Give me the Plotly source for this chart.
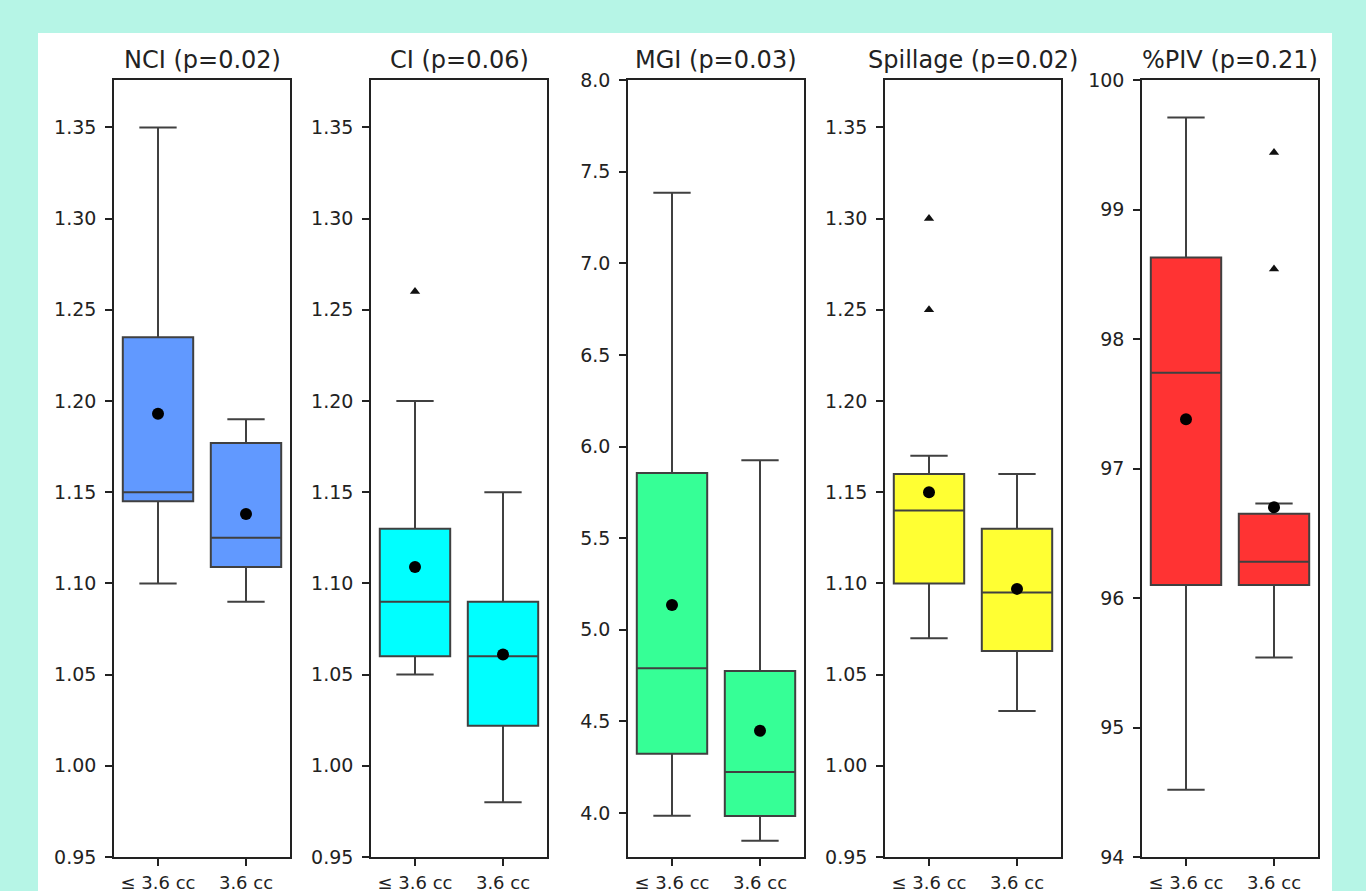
import plotly.graph_objects as go

W, H = 1366, 891

# ---- data ----
titles = ["NCI (p=0.02)", "CI (p=0.06)", "MGI (p=0.03)", "Spillage (p=0.02)", "%PIV (p=0.21)"]
categories = ["≤ 3.6 cc", "3.6 cc"]
colors = ["#6199FF", "#00FFFF", "#36FF96", "#FFFF33", "#FF3333"]

lowerfence = [[1.100, 1.090], [1.050, 0.980], [3.985, 3.849], [1.070, 1.030], [94.52, 95.54]]
q1 =         [[1.145, 1.109], [1.060, 1.022], [4.323, 3.984], [1.100, 1.063], [96.10, 96.10]]
median =     [[1.150, 1.125], [1.090, 1.060], [4.790, 4.224], [1.140, 1.095], [97.74, 96.28]]
q3 =         [[1.235, 1.177], [1.130, 1.090], [5.855, 4.775], [1.160, 1.130], [98.63, 96.65]]
upperfence = [[1.350, 1.190], [1.200, 1.150], [7.385, 5.925], [1.170, 1.160], [99.71, 96.73]]
means =      [[1.193, 1.138], [1.109, 1.061], [5.135, 4.449], [1.150, 1.097], [97.38, 96.70]]
outliers =   [[[], []], [[1.26], []], [[], []], [[1.30, 1.25], []], [[], [99.44, 98.54]]]

y_ranges = [[0.95, 1.376], [0.95, 1.376], [3.76, 8.0], [0.95, 1.376], [94, 100]]
y_ticks = [
    [0.95, 1.00, 1.05, 1.10, 1.15, 1.20, 1.25, 1.30, 1.35],
    [0.95, 1.00, 1.05, 1.10, 1.15, 1.20, 1.25, 1.30, 1.35],
    [4.0, 4.5, 5.0, 5.5, 6.0, 6.5, 7.0, 7.5, 8.0],
    [0.95, 1.00, 1.05, 1.10, 1.15, 1.20, 1.25, 1.30, 1.35],
    [94, 95, 96, 97, 98, 99, 100],
]
y_fmt = [".2f", ".2f", ".1f", ".2f", "d"]

# ---- layout geometry (pixels) ----
panel_left = [114, 371, 628, 885, 1142]
panel_w = 176
ax_top, ax_bot = 80, 857

fig = go.Figure()
layout = dict(
    width=W, height=H,
    autosize=False,
    margin=dict(l=0, r=0, t=0, b=0, pad=0, autoexpand=False),
    paper_bgcolor="#B6F5E6",
    plot_bgcolor="white",
    showlegend=False,
    font=dict(family="DejaVu Sans", size=18, color="#222222"),
    shapes=[dict(type="rect", xref="paper", yref="paper", layer="below",
                 x0=38 / W, x1=1332 / W, y0=0, y1=(H - 33) / H,
                 fillcolor="white", line=dict(width=0))],
    annotations=[],
)

edge = "#404040"
for i in range(5):
    n = "" if i == 0 else str(i + 1)
    xa, ya = "x" + n, "y" + n
    for j in range(2):
        fig.add_trace(go.Box(
            x=[j], q1=[q1[i][j]], median=[median[i][j]], q3=[q3[i][j]],
            lowerfence=[lowerfence[i][j]], upperfence=[upperfence[i][j]],
            width=0.8, whiskerwidth=0.53, boxpoints=False,
            fillcolor=colors[i], line=dict(color=edge, width=2),
            xaxis=xa, yaxis=ya, hoverinfo="skip",
        ))
        if outliers[i][j]:
            fig.add_trace(go.Scatter(
                x=[j] * len(outliers[i][j]), y=outliers[i][j], mode="markers",
                marker=dict(symbol="triangle-up", size=9, color="#111111"),
                xaxis=xa, yaxis=ya,
            ))
        fig.add_trace(go.Scatter(
            x=[j], y=[means[i][j]], mode="markers",
            marker=dict(symbol="circle", size=12, color="black"),
            xaxis=xa, yaxis=ya,
        ))
    x0 = panel_left[i] / W
    x1 = (panel_left[i] + panel_w) / W
    layout["xaxis" + n] = dict(
        domain=[x0, x1], range=[-0.5, 1.5], anchor=ya, automargin=False,
        tickmode="array", tickvals=[0, 1], ticktext=categories,
        ticks="outside", ticklen=7, tickcolor="#222", tickwidth=1.5,
        ticklabelstandoff=2,
        showline=True, linecolor="#222", linewidth=1.6, mirror=True,
        showgrid=False, zeroline=False, fixedrange=True,
        tickfont=dict(size=18),
    )
    layout["yaxis" + n] = dict(
        domain=[(H - ax_bot) / H, (H - ax_top) / H], range=y_ranges[i], anchor=xa,
        automargin=False,
        tickmode="array", tickvals=y_ticks[i],
        ticktext=[format(v, y_fmt[i]) for v in y_ticks[i]],
        ticks="outside", ticklen=7, tickcolor="#222", tickwidth=1.5,
        ticklabelstandoff=5,
        showline=True, linecolor="#222", linewidth=1.6, mirror=True,
        showgrid=False, zeroline=False, fixedrange=True,
        tickfont=dict(size=19),
    )
    layout["annotations"].append(dict(
        text=titles[i], xref="paper", yref="paper",
        x=(panel_left[i] + panel_w / 2) / W, y=(H - 60) / H,
        xanchor="center", yanchor="middle", showarrow=False,
        font=dict(size=24, color="#222222"),
    ))

fig.update_layout(**layout)
fig.write_html(
    "out.html",
    config={"displayModeBar": False},
    post_script="document.body.style.margin='0';document.body.style.overflow='hidden';",
)
